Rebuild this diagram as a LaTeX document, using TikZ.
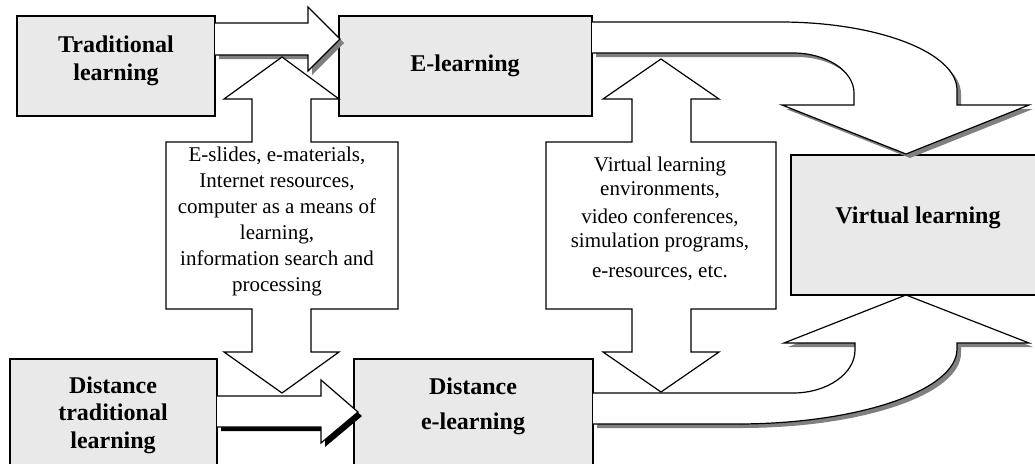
\documentclass[tikz,border=0pt]{standalone}
\usepackage{fontspec}
\setmainfont{Liberation Serif}
\usetikzlibrary{calc}
\definecolor{boxfill}{RGB}{233,233,233}
\definecolor{shadowgray}{RGB}{128,128,128}
\begin{document}
\begin{tikzpicture}[x=1pt,y=-1pt,
  box/.style={draw=black, line width=1.5pt, fill=boxfill, inner sep=0pt},
  blbl/.style={font=\fontsize{24}{28}\selectfont\bfseries, align=center, inner sep=0pt},
  nlbl/.style={font=\fontsize{21}{26}\selectfont, align=center, inner sep=0pt},
  outl/.style={draw=black, line width=1.2pt, line join=miter},
  shade/.style={fill=shadowgray, shift={(4,4)}},
  darkshade/.style={fill=black, shift={(4,4)}},
]
\useasboundingbox (0,0) rectangle (1035,463);

% boxes
\node[box, minimum width=198pt, minimum height=100pt] (trad) at (116,66) {};
\node[box, minimum width=253pt, minimum height=100pt] (elearn) at (465.5,66) {};
\node[box, minimum width=254pt, minimum height=140pt] (virt) at (918,225) {};
\node[box, minimum width=207pt, minimum height=113pt] (dtrad) at (113.5,415.5) {};
\node[box, minimum width=239pt, minimum height=113pt] (delearn) at (473.5,415.5) {};

% block arrow paths
\def\ArrA{(215,23) -- (308,23) -- (308,7) -- (340,39) -- (308,71) -- (308,55) -- (215,55)}
\def\ArrB{(217,396) -- (321,396) -- (321,380) -- (358,412) -- (321,443) -- (321,427) -- (217,427)}
\def\ArrC{(592,22) -- (780,22) .. controls (877.7,22) and (957,52.5) .. (957,90) -- (957,105) -- (1029,105) -- (906,154) -- (782,105) -- (854,105) -- (854,93) .. controls (854,71) and (826.5,53) .. (793,53) -- (592,53)}
\def\ArrD{(593,424) -- (737,424) .. controls (858.4,424) and (957,390.4) .. (957,349) -- (957,343) -- (1029,343) -- (906,295) -- (784,343) -- (855,343) -- (855,350) .. controls (855,373.7) and (827.2,393) .. (793,393) -- (593,393)}

% traditional -> e-learning
\fill[shade] \ArrA -- cycle;
\fill[white] \ArrA -- cycle;
\draw[outl] \ArrA;
% distance traditional -> distance e-learning
\fill[darkshade] \ArrB -- cycle;
\fill[white] \ArrB -- cycle;
\draw[outl] \ArrB;
% e-learning -> virtual
\fill[shade] \ArrC -- cycle;
\fill[white] \ArrC -- cycle;
\draw[outl] \ArrC;
% distance e-learning -> virtual
\fill[shade] \ArrD -- cycle;
\fill[white] \ArrD -- cycle;
\draw[outl] \ArrD;

% double arrows with text panels
\filldraw[outl, fill=white] (166,142) -- (252,142) -- (252,99) -- (224,99) -- (282,57) -- (339,99) -- (311,99) -- (311,142) -- (398,142) -- (398,309) -- (311,309) -- (311,352) -- (339,352) -- (282,393) -- (224,352) -- (252,352) -- (252,309) -- (166,309) -- cycle;
\filldraw[outl, fill=white] (546,142) -- (632,142) -- (632,99) -- (603,99) -- (661,59) -- (719,99) -- (691,99) -- (691,142) -- (776,142) -- (776,309) -- (691,309) -- (691,352) -- (719,352) -- (661,392) -- (603,352) -- (632,352) -- (632,309) -- (546,309) -- cycle;

% labels
\node[blbl] (tradlbl) at (116,60.4) {Traditional\\learning};
\node[blbl, anchor=base] (elbl) at (465,71) {E-learning};
\node[blbl, anchor=base] (vlbl) at (918,223) {Virtual learning};
\node[blbl, font=\fontsize{24}{27.5}\selectfont\bfseries] (dtradlbl) at (113,415) {Distance\\traditional\\learning};
\node[blbl, font=\fontsize{24}{35}\selectfont\bfseries] (delbl) at (473,406) {Distance\\e-learning};
\node[nlbl] (leftlbl) at (277,221) {E-slides, e-materials,\\Internet resources,\\computer as a means of\\learning,\\information search and\\processing};
\node[nlbl, font=\fontsize{21}{24}\selectfont] (rightlbl) at (660,219) {Virtual learning\\environments,\\[4pt]video conferences,\\simulation programs,\\[6pt]e-resources, etc.};
\end{tikzpicture}
\end{document}
